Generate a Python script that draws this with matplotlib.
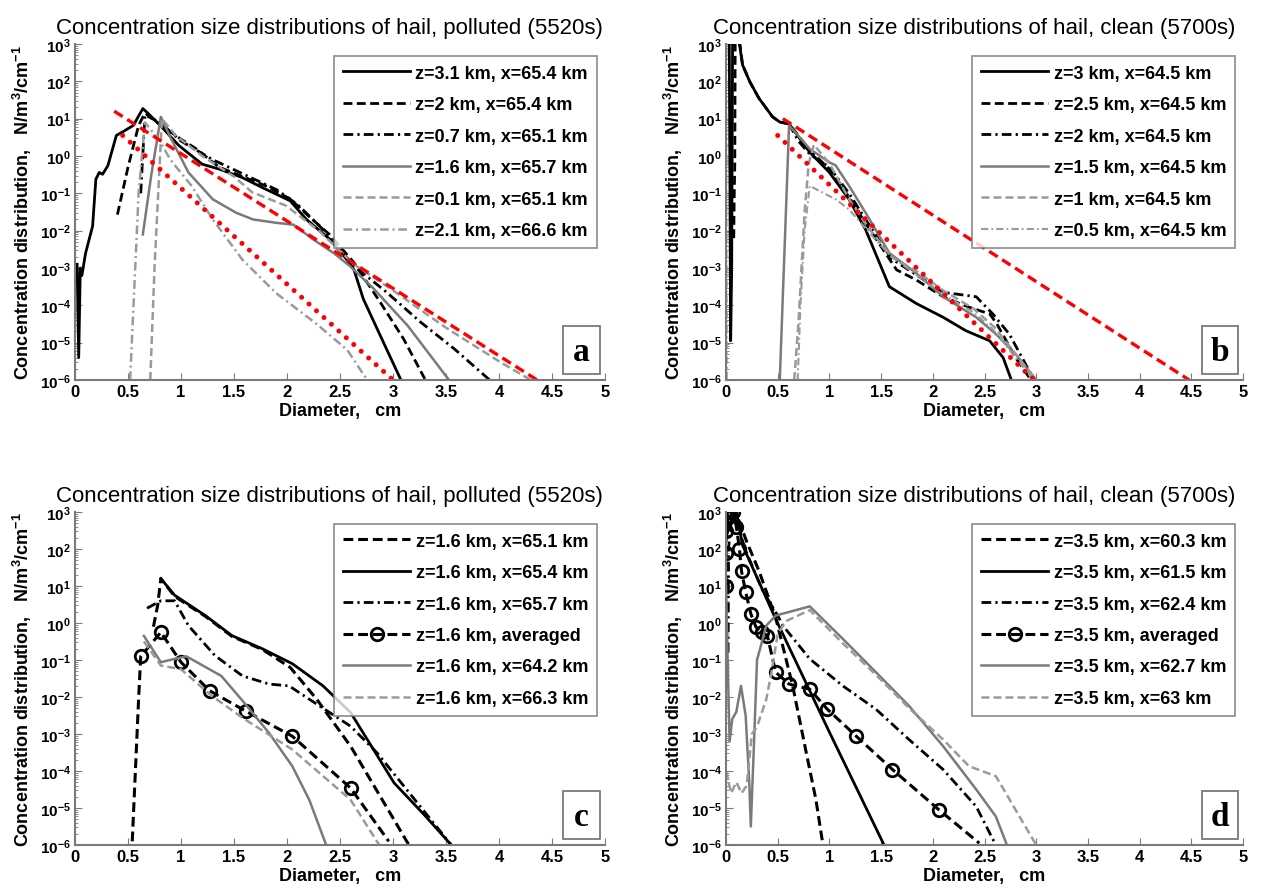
import numpy as np
import matplotlib.pyplot as plt
from matplotlib.patches import Rectangle

plt.rcParams['font.family'] = ['Liberation Sans', 'DejaVu Sans']
plt.rcParams['mathtext.fontset'] = 'custom'
plt.rcParams['mathtext.rm'] = 'Liberation Sans'
plt.rcParams['mathtext.bf'] = 'Liberation Sans:bold'

titles = ['Concentration size distributions of hail, polluted (5520s)',
          'Concentration size distributions of hail, clean (5700s)',
          'Concentration size distributions of hail, polluted (5520s)',
          'Concentration size distributions of hail, clean (5700s)']
letters = ['a', 'b', 'c', 'd']
xticks = [0, 0.5, 1, 1.5, 2, 2.5, 3, 3.5, 4, 4.5, 5]
xtick_labels = ['0', '0.5', '1', '1.5', '2', '2.5', '3', '3.5', '4', '4.5', '5']
ytick_exp = [-6, -5, -4, -3, -2, -1, 0, 1, 2, 3]

# ---- panel a : diameter (cm), log10 of concentration ----
a_labels = ['z=3.1 km, x=65.4 km', 'z=2 km, x=65.4 km', 'z=0.7 km, x=65.1 km',
            'z=1.6 km, x=65.7 km', 'z=0.1 km, x=65.1 km', 'z=2.1 km, x=66.6 km']
a1_d = [0.02, 0.035, 0.05, 0.065, 0.1, 0.166, 0.197, 0.229, 0.26, 0.31, 0.39, 0.47, 0.55, 0.64, 0.69,
        0.82, 0.98, 1.2, 1.36, 1.58, 1.77, 2.03, 2.18, 2.4, 2.56, 2.63, 2.72, 2.88, 3.07, 3.12]
a1_e = [-2.9, -5.4, -3.0, -3.2, -2.6, -1.88, -0.62, -0.44, -0.49, -0.26, 0.55, 0.68, 0.82, 1.27, 1.14,
        0.77, 0.28, -0.22, -0.35, -0.58, -0.85, -1.2, -1.69, -2.22, -2.76, -3.03, -3.83, -4.81, -5.97, -6.2]
a2_d = [0.4, 0.5, 0.6, 0.66, 0.8, 1.0, 1.14, 1.36, 1.58, 1.8, 2.03, 2.2, 2.4, 2.63, 2.88, 3.1, 3.3]
a2_e = [-1.57, -0.3, 0.82, 1.15, 0.85, 0.45, 0.2, -0.3, -0.55, -0.8, -1.15, -1.6, -2.1, -2.85, -3.92, -4.9, -5.97]
a3_d = [0.62, 0.66, 0.8, 1.0, 1.3, 1.6, 1.9, 2.1, 2.35, 2.63, 2.94, 3.26, 3.58, 3.9, 3.95]
a3_e = [-1.0, 1.1, 0.9, 0.4, -0.1, -0.5, -0.9, -1.3, -2.0, -2.94, -3.65, -4.45, -5.17, -5.97, -6.1]
a4_d = [0.64, 0.72, 0.81, 0.9, 1.07, 1.3, 1.52, 1.68, 1.9, 2.06, 2.25, 2.44, 2.59, 2.82, 3.14, 3.52]
a4_e = [-2.1, -0.5, 1.05, 0.5, -0.44, -1.16, -1.52, -1.7, -1.79, -1.84, -2.24, -2.6, -2.94, -3.56, -4.55, -5.97]
a5_d = [0.71, 0.75, 0.82, 0.95, 1.2, 1.5, 1.67, 1.99, 2.3, 2.63, 3.0, 3.5, 4.0, 4.3]
a5_e = [-6.0, -3.0, 1.0, 0.55, 0.0, -0.55, -0.97, -1.33, -2.0, -2.9, -3.6, -4.6, -5.5, -6.0]
a6_d = [0.52, 0.56, 0.6, 0.66, 0.8, 0.9, 1.1, 1.3, 1.58, 1.9, 2.28, 2.57, 2.7, 2.76]
a6_e = [-6.0, -3.5, -1.0, 0.9, 0.4, -0.1, -0.8, -1.7, -2.78, -3.68, -4.5, -5.2, -5.76, -6.0]
a_fit_dash_d = [0.37, 4.36]
a_fit_dash_e = [1.2, -6.0]
a_fit_dot_d = [0.45, 3.0]
a_fit_dot_e = [0.55, -6.0]

# ---- panel b ----
b_labels = ['z=3 km, x=64.5 km', 'z=2.5 km, x=64.5 km', 'z=2 km, x=64.5 km',
            'z=1.5 km, x=64.5 km', 'z=1 km, x=64.5 km', 'z=0.5 km, x=64.5 km']
b1_d = [0.03, 0.045, 0.055, 0.065, 0.1, 0.13, 0.16, 0.23, 0.32, 0.45, 0.52, 0.61, 0.81, 1.0, 1.19,
        1.35, 1.58, 1.84, 2.1, 2.32, 2.55, 2.68, 2.76]
b1_e = [4.0, -4.95, -3.0, 4.0, 3.3, 3.0, 2.44, 1.99, 1.54, 1.05, 0.91, 0.86, 0.1, -0.44, -1.16,
        -1.97, -3.5, -3.95, -4.32, -4.68, -4.95, -5.4, -6.0]
b2_d = [0.075, 0.08, 0.085, 0.09, 0.16, 0.23, 0.32, 0.45, 0.52, 0.61, 0.81, 1.0, 1.19, 1.35, 1.65,
        1.84, 2.1, 2.35, 2.55, 2.62, 2.8, 2.95]
b2_e = [-2.2, -1.0, -0.2, 4.0, 2.44, 1.99, 1.54, 1.05, 0.91, 0.86, 0.15, -0.35, -1.1, -1.8, -3.05,
        -3.32, -3.77, -4.05, -4.23, -4.5, -5.4, -6.0]
b3_d = [0.61, 0.7, 0.81, 1.0, 1.19, 1.35, 1.6, 1.85, 2.1, 2.42, 2.58, 2.74, 2.98]
b3_e = [0.86, 0.4, 0.05, -0.3, -1.0, -1.7, -2.75, -3.2, -3.65, -3.77, -4.23, -4.77, -6.0]
b4_d = [0.52, 0.61, 0.81, 1.0, 1.06, 1.19, 1.35, 1.58, 1.84, 2.1, 2.42, 2.61, 2.8, 3.0]
b4_e = [-6.0, 0.82, 0.19, -0.17, -0.25, -0.8, -1.52, -2.6, -3.14, -3.77, -4.32, -4.77, -5.3, -6.0]
b5_d = [0.66, 0.7, 0.73, 0.76, 0.8, 0.85, 1.0, 1.2, 1.4, 1.6, 1.85, 2.1, 2.4, 2.6, 2.8, 3.0]
b5_e = [-6.0, -4.5, -3.0, -1.5, -0.2, 0.3, -0.2, -1.2, -2.0, -2.7, -3.1, -3.6, -4.1, -4.6, -5.3, -6.0]
b6_d = [0.0, 0.008, 0.016, 0.68, 0.72, 0.76, 0.81, 1.06, 1.19, 1.4, 1.6, 1.85, 2.1, 2.4, 2.6, 2.8, 3.0]
b6_e = [4.0, -7.0, -7.0, -7.0, -4.0, -2.0, -0.8, -1.16, -1.43, -2.1, -2.7, -3.2, -3.7, -4.2, -4.7, -5.4, -6.1]
b_fit_dash_d = [0.55, 4.48]
b_fit_dash_e = [1.0, -6.0]
b_fit_dot_d = [0.5, 2.98]
b_fit_dot_e = [0.55, -6.0]

# ---- panel c ----
c_labels = ['z=1.6 km, x=65.1 km', 'z=1.6 km, x=65.4 km', 'z=1.6 km, x=65.7 km',
            'z=1.6 km, averaged', 'z=1.6 km, x=64.2 km', 'z=1.6 km, x=66.3 km']
c1_d = [0.74, 0.78, 0.81, 0.94, 1.23, 1.48, 1.77, 2.03, 2.28, 2.6, 3.01, 3.15]
c1_e = [-0.1, 0.48, 1.2, 0.72, 0.18, -0.36, -0.72, -1.2, -2.06, -3.33, -5.32, -6.0]
c2_d = [0.81, 0.94, 1.23, 1.48, 1.77, 2.05, 2.34, 2.6, 3.01, 3.3, 3.55]
c2_e = [1.2, 0.75, 0.2, -0.34, -0.7, -1.1, -1.7, -2.42, -4.32, -5.2, -6.0]
c3_d = [0.68, 0.81, 0.94, 1.07, 1.32, 1.58, 1.83, 2.02, 2.21, 2.6, 2.85, 3.1, 3.55]
c3_e = [0.4, 0.6, 0.6, -0.07, -0.88, -1.43, -1.65, -1.7, -2.06, -2.79, -3.51, -4.4, -6.0]
c4_d = [0.54, 0.6, 0.62, 0.81, 1.0, 1.27, 1.61, 2.05, 2.6, 2.96]
c4_e = [-5.9, -2.06, -0.9, -0.25, -1.06, -1.83, -2.38, -3.06, -4.46, -5.9]
c4_marks = [2, 3, 4, 5, 6, 7, 8]
c5_d = [0.65, 0.81, 0.94, 1.05, 1.38, 1.58, 1.83, 2.05, 2.21, 2.37]
c5_e = [-0.35, -1.06, -0.97, -0.9, -1.43, -2.1, -2.97, -3.87, -4.78, -6.0]
c6_d = [0.65, 0.81, 1.0, 1.29, 1.6, 2.05, 2.6, 2.87]
c6_e = [-0.5, -1.15, -1.25, -1.97, -2.6, -3.42, -4.78, -6.0]

# ---- panel d ----
d_labels = ['z=3.5 km, x=60.3 km', 'z=3.5 km, x=61.5 km', 'z=3.5 km, x=62.4 km',
            'z=3.5 km, averaged', 'z=3.5 km, x=62.7 km', 'z=3.5 km, x=63 km']
d1_d = [0.0, 0.06, 0.12, 0.2, 0.32, 0.48, 0.645, 0.77, 0.87, 0.935]
d1_e = [2.5, 3.0, 2.8, 2.2, 1.4, 0.15, -1.7, -3.42, -4.78, -5.95]
d2_d = [0.0, 0.04, 0.1, 0.16, 0.48, 1.0, 1.52]
d2_e = [2.3, 2.7, 3.0, 2.1, 0.11, -2.95, -5.95]
d3_d = [0.02, 0.025, 0.05, 0.1, 0.2, 0.35, 0.5, 0.55, 0.81, 1.13, 1.45, 1.77, 2.1, 2.42, 2.6]
d3_e = [-0.8, 2.0, 2.9, 2.7, 1.9, 0.9, 0.2, -0.07, -0.97, -1.7, -2.33, -3.15, -3.96, -4.96, -5.95]
d4_d = [0.0, 0.0, 0.0, 0.03, 0.07, 0.1, 0.13, 0.15, 0.19, 0.24, 0.29, 0.35, 0.4, 0.48, 0.61, 0.81,
        0.98, 1.26, 1.61, 2.06, 2.45]
d4_e = [1.0, 1.9, 2.5, 3.0, 3.0, 2.6, 2.0, 1.4, 0.84, 0.25, -0.11, -0.25, -0.34, -1.33, -1.65, -1.79,
        -2.33, -3.06, -3.96, -5.05, -5.95]
d4_marks = list(range(0, 20))
d5_d = [0.0, 0.02, 0.035, 0.06, 0.1, 0.145, 0.19, 0.225, 0.24, 0.27, 0.3, 0.39, 0.48, 0.81, 1.13,
        1.45, 1.77, 2.1, 2.42, 2.61, 2.71]
d5_e = [1.0, -1.5, -3.2, -2.6, -2.4, -1.7, -2.5, -4.3, -5.5, -3.3, -1.0, -0.07, 0.2, 0.45, -0.43,
        -1.33, -2.24, -3.33, -4.5, -5.23, -5.95]
d6_d = [0.0, 0.05, 0.1, 0.15, 0.2, 0.25, 0.3, 0.39, 0.44, 0.5, 0.58, 0.81, 1.13, 1.45, 1.77, 2.1,
        2.35, 2.61, 3.0]
d6_e = [-4.0, -4.6, -4.3, -4.6, -4.4, -3.0, -2.8, -2.06, -1.33, -0.3, 0.05, 0.35, -0.55, -1.4, -2.3,
        -3.15, -3.87, -4.14, -6.0]

GREY = '#7a7a7a'
LGREY = '#9a9a9a'
DASH = (0, (3.2, 1.6))
DDOT = (0, (3.5, 1.5, 0.8, 1.5))

fig = plt.figure(figsize=(12.61, 8.95), dpi=100)
boxes = [[75, 45, 605, 381], [726, 45, 1243, 381], [75, 513, 605, 846], [726, 513, 1243, 846]]
axes = []
for l, t, r, b in boxes:
    axes.append(fig.add_axes([l / 1261, 1 - b / 895, (r - l) / 1261, (b - t) / 895]))


def curve(ax, d, e, label=None, **kw):
    ax.plot(d, 10.0 ** np.array(e), label=label, **kw)


def decorate(ax, i):
    ax.set_yscale('log')
    ax.set_xlim(0, 5)
    ax.set_ylim(1e-6, 1e3)
    ax.set_xticks(xticks)
    ax.set_xticklabels(xtick_labels, fontsize=12, fontweight='bold')
    ax.set_yticks([10.0 ** k for k in ytick_exp])
    ax.set_yticklabels([r'$\mathbf{10^{%d}}$' % k for k in ytick_exp], fontsize=11)
    ax.tick_params(which='both', direction='in', color=GREY, pad=3)
    ax.tick_params(which='major', length=5)
    ax.tick_params(which='minor', length=2.5)
    for s in ['top', 'right']:
        ax.spines[s].set_visible(False)
    for s in ['left', 'bottom']:
        ax.spines[s].set_color(GREY)
        ax.spines[s].set_linewidth(1.5)
    ax.set_title(titles[i], fontsize=16, pad=8, x=0.48)
    ax.set_xlabel('Diameter,   cm', fontsize=13, fontweight='bold', labelpad=2)
    ax.set_ylabel(r'Concentration distribution,   N/m$^{\mathbf{3}}$/cm$^{\mathbf{-1}}$',
                  fontsize=13, fontweight='bold', labelpad=4)
    leg = ax.legend(loc='upper right', bbox_to_anchor=(0.985, 0.965),
                    prop={'weight': 'bold', 'size': 13}, handlelength=3.7, labelspacing=0.8,
                    fancybox=False, borderaxespad=0, handletextpad=0.3, borderpad=0.5)
    leg.get_frame().set_edgecolor(GREY)
    leg.get_frame().set_linewidth(1.3)
    ax.add_patch(Rectangle((0.92, 0.018), 0.07, 0.143, transform=ax.transAxes, fc='white',
                           ec=GREY, lw=1.3, clip_on=False, zorder=5))
    ax.text(0.955, 0.085, letters[i], transform=ax.transAxes, ha='center', va='center',
            fontsize=24, fontweight='bold', family='Liberation Serif', zorder=6)


# panel a
ax = axes[0]
curve(ax, a1_d, a1_e, a_labels[0], color='k', lw=2.0)
curve(ax, a2_d, a2_e, a_labels[1], color='k', lw=2.0, ls=DASH)
curve(ax, a3_d, a3_e, a_labels[2], color='k', lw=2.0, ls=DDOT)
curve(ax, a4_d, a4_e, a_labels[3], color=GREY, lw=1.8)
curve(ax, a5_d, a5_e, a_labels[4], color=LGREY, lw=1.8, ls=DASH)
curve(ax, a6_d, a6_e, a_labels[5], color=LGREY, lw=1.8, ls=DDOT)
curve(ax, a_fit_dash_d, a_fit_dash_e, color='red', lw=2.4, ls=(0, (3, 1.6)))
curve(ax, a_fit_dot_d, a_fit_dot_e, color='red', lw=3.6, ls=(0, (0.01, 2.0)), dash_capstyle='round')
decorate(ax, 0)

# panel b
ax = axes[1]
curve(ax, b1_d, b1_e, b_labels[0], color='k', lw=2.0)
curve(ax, b2_d, b2_e, b_labels[1], color='k', lw=2.0, ls=DASH)
curve(ax, b3_d, b3_e, b_labels[2], color='k', lw=2.0, ls=DDOT)
curve(ax, b4_d, b4_e, b_labels[3], color=GREY, lw=1.8)
curve(ax, b5_d, b5_e, b_labels[4], color=LGREY, lw=1.8, ls=DASH)
curve(ax, b6_d, b6_e, b_labels[5], color=LGREY, lw=1.5, ls=DDOT)
curve(ax, b_fit_dash_d, b_fit_dash_e, color='red', lw=2.4, ls=(0, (3, 1.6)))
curve(ax, b_fit_dot_d, b_fit_dot_e, color='red', lw=3.6, ls=(0, (0.01, 2.0)), dash_capstyle='round')
decorate(ax, 1)

# panel c
ax = axes[2]
curve(ax, c1_d, c1_e, c_labels[0], color='k', lw=2.2, ls=DASH)
curve(ax, c2_d, c2_e, c_labels[1], color='k', lw=2.0)
curve(ax, c3_d, c3_e, c_labels[2], color='k', lw=2.0, ls=DDOT)
curve(ax, c4_d, c4_e, c_labels[3], color='k', lw=2.2, ls=DASH, marker='o', ms=9, mfc='none',
      mew=2, markevery=c4_marks)
curve(ax, c5_d, c5_e, c_labels[4], color=GREY, lw=1.8)
curve(ax, c6_d, c6_e, c_labels[5], color=LGREY, lw=1.8, ls=DASH)
decorate(ax, 2)

# panel d
ax = axes[3]
curve(ax, d1_d, d1_e, d_labels[0], color='k', lw=2.2, ls=DASH)
curve(ax, d2_d, d2_e, d_labels[1], color='k', lw=2.0)
curve(ax, d3_d, d3_e, d_labels[2], color='k', lw=2.0, ls=DDOT)
curve(ax, d4_d, d4_e, d_labels[3], color='k', lw=2.2, ls=DASH, marker='o', ms=9, mfc='none',
      mew=2, markevery=d4_marks)
curve(ax, d5_d, d5_e, d_labels[4], color=GREY, lw=1.8)
curve(ax, d6_d, d6_e, d_labels[5], color=LGREY, lw=1.8, ls=DASH)
decorate(ax, 3)

fig.savefig('out.png', dpi=100)
